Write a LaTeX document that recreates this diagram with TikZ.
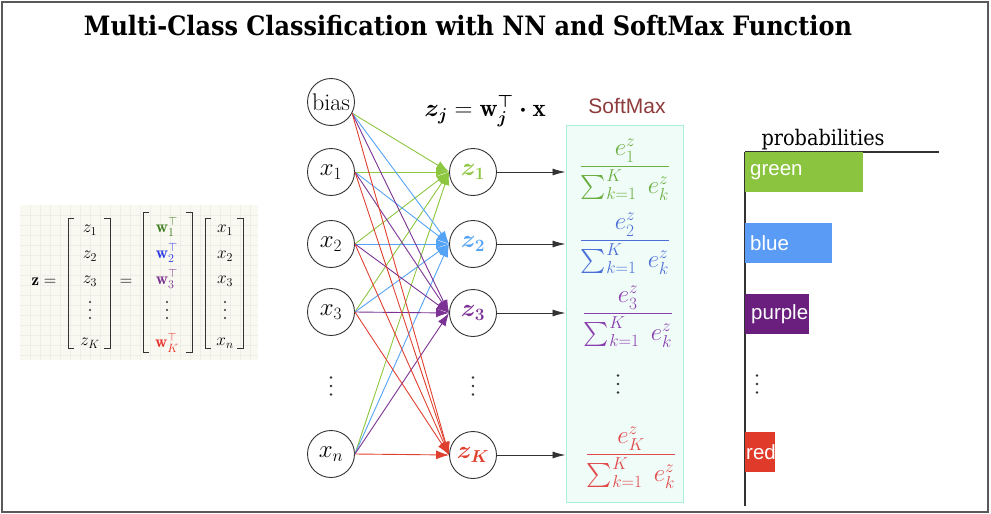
\documentclass[tikz,border=0pt]{standalone}
\usepackage{fontspec}
\usepackage{amsmath,amssymb,bm}
\usepackage{graphicx}
\usetikzlibrary{arrows.meta}
\newfontfamily\titlefont{DejaVu Serif Condensed}
\newfontfamily\labfont{Liberation Sans}
\definecolor{eG}{HTML}{8DC63F}
\definecolor{eB}{HTML}{55A3F5}
\definecolor{eP}{HTML}{7B3294}
\definecolor{eR}{HTML}{E0402F}
\definecolor{bG}{HTML}{8BC540}
\definecolor{bB}{HTML}{5A9CF5}
\definecolor{bP}{HTML}{6A1F7F}
\definecolor{bR}{HTML}{E03A2A}
\definecolor{fG}{HTML}{6AAE3E}
\definecolor{fB}{HTML}{4A6FD8}
\definecolor{fP}{HTML}{8A3FB0}
\definecolor{fR}{HTML}{E04A4A}
\definecolor{mG}{HTML}{3D7F1E}
\definecolor{mB}{HTML}{2C3BE6}
\definecolor{mP}{HTML}{7A2E8E}
\definecolor{mR}{HTML}{E8302A}
\definecolor{boxfill}{HTML}{F0FCF8}
\definecolor{boxline}{HTML}{A8F0D8}
\definecolor{smlab}{HTML}{8E3B3B}
\definecolor{panel}{HTML}{F9F8F1}
\definecolor{panelgrid}{HTML}{EFEEE6}
\definecolor{ink}{HTML}{333333}
\newcommand{\titletext}{\resizebox{768pt}{!}{\titlefont\bfseries Multi-Class Classification with NN and SoftMax Function}}
\newcommand{\probtext}{\resizebox{123pt}{!}{\titlefont probabilities}}
\newcommand{\zformula}{$\bm{z_j} = \mathbf{w}_{\bm{j}}^{\bm{\top}} \bm{\cdot} \mathbf{x}$}
\newcommand{\smfrac}[1]{$\dfrac{e^z_{#1}}{\sum_{k=1}^K\ e^z_k}$}
\begin{document}
\begin{tikzpicture}[x=1pt,y=-1pt,
  neuron/.style={circle,draw=ink,line width=0.9pt,minimum size=47pt,inner sep=0pt,font=\fontsize{24}{27}\selectfont},
  edge/.style={line width=0.9pt,-{Latex[length=13pt,width=9pt]}},
  outarrow/.style={line width=0.9pt,draw=ink,-{Latex[length=13pt,width=7pt]}},
  frac/.style={font=\fontsize{24}{28}\selectfont,inner sep=0pt},
  bar/.style={anchor=west,inner sep=0pt,minimum height=40pt},
  barlab/.style={anchor=west,text=white,font=\labfont\fontsize{20.5}{23}\selectfont,inner sep=0pt},
  mat/.style={font=\fontsize{17}{19}\selectfont,inner sep=0pt},
  brk/.style={line width=0.9pt,draw=ink}
]
\useasboundingbox (0,0) rectangle (991,514);
\draw[line width=1.5pt,draw=black!65] (2,2) rectangle (988,512);

% title
\node[anchor=base,inner sep=0pt] (title) at (468,35) {\titletext};

% left matrix panel
\fill[panel] (20,205) rectangle (258,360);
\foreach \gx in {30,40,...,250} \draw[panelgrid,line width=0.3pt] (\gx,205) -- (\gx,360);
\foreach \gy in {215,225,...,355} \draw[panelgrid,line width=0.3pt] (20,\gy) -- (258,\gy);
\node[mat] (zeq) at (44,282) {$\mathbf{z} =$};
\node[mat] (eq2) at (126,282) {$=$};
\node[mat] (m11) at (90,230) {$z_1$};
\node[mat] (m12) at (90,256) {$z_2$};
\node[mat] (m13) at (90,281) {$z_3$};
\node[mat] (m15) at (90,343) {$z_K$};
\node[mat] (m21) at (167,227) {$\color{mG}\mathbf{w}_1^\top$};
\node[mat] (m22) at (167,253) {$\color{mB}\mathbf{w}_2^\top$};
\node[mat] (m23) at (167,279) {$\color{mP}\mathbf{w}_3^\top$};
\node[mat] (m25) at (167,343) {$\color{mR}\mathbf{w}_K^\top$};
\node[mat] (m31) at (225,230) {$x_1$};
\node[mat] (m32) at (225,256) {$x_2$};
\node[mat] (m33) at (225,281) {$x_3$};
\node[mat] (m35) at (225,343) {$x_n$};
\coordinate (m14) at (90,310);
\coordinate (m24) at (167,310);
\coordinate (m34) at (225,310);
\foreach \dc in {m14,m24,m34}
  \foreach \dy in {-8,0,8} \fill[ink] (\dc) ++(0,\dy) circle (1.1pt);
\draw[brk] (74,218) -- (68,218) -- (68,348) -- (74,348);
\draw[brk] (104,218) -- (110,218) -- (110,348) -- (104,348);
\draw[brk] (149,212) -- (143,212) -- (143,352) -- (149,352);
\draw[brk] (186,212) -- (192,212) -- (192,352) -- (186,352);
\draw[brk] (211,218) -- (205,218) -- (205,348) -- (211,348);
\draw[brk] (237,218) -- (243,218) -- (243,348) -- (237,348);

% input neurons
\node[neuron,font=\fontsize{24}{26}\selectfont] (bias) at (331,102) {bias};
\node[neuron] (x1) at (331,172) {$x_1$};
\node[neuron] (x2) at (331,244) {$x_2$};
\node[neuron] (x3) at (331,312) {$x_3$};
\coordinate (xd) at (331,386);
\node[neuron] (xn) at (331,454) {$x_n$};

% output neurons
\node[neuron] (z1) at (473,172) {$\color{eG}\bm{z_1}$};
\node[neuron] (z2) at (473,244) {$\color{eB}\bm{z_2}$};
\node[neuron] (z3) at (473,313) {$\color{eP}\bm{z_3}$};
\coordinate (zd) at (473,386);
\node[neuron] (zK) at (473,455) {$\color{eR}\bm{z_K}$};

\node[font=\fontsize{25}{28}\selectfont] (formula) at (485,111) {\zformula};

% connections
\foreach \tg/\cl in {z1/eG,z2/eB,z3/eP,zK/eR}{
  \foreach \sr in {bias.-28,x1.east,x2.east,x3.east,xn.east}{
    \draw[edge,\cl] (\sr) -- (\tg.west);
  }
}

% softmax box
\node[draw=boxline,fill=boxfill,line width=1pt,minimum width=117pt,minimum height=377pt,inner sep=0pt] (box) at (624.5,313.5) {};
\node[font=\labfont\fontsize{21}{24}\selectfont,text=smlab] (smlabel) at (627,106) {SoftMax};
\foreach \zz in {z1,z2,z3,zK} \draw[outarrow] (\zz) -- (\zz -| box.west);

\node[frac,text=fG] (f1) at (625,170) {\smfrac{1}};
\node[frac,text=fB] (f2) at (625,244) {\smfrac{2}};
\node[frac,text=fP] (f3) at (628,317) {\smfrac{3}};
\coordinate (fd) at (618,384);
\node[frac,text=fR] (f4) at (631,458) {\smfrac{K}};

% probabilities chart
\node[anchor=base,inner sep=0pt] (plabel) at (823,145) {\probtext};
\draw[line width=1.2pt,draw=ink] (745,152) -- (745,506);
\draw[line width=1.2pt,draw=ink] (745,152) -- (939,152);
\node[bar,fill=bG,minimum width=118pt] (pg) at (745,172) {};
\node[bar,fill=bB,minimum width=87pt] (pb) at (745,243) {};
\node[bar,fill=bP,minimum width=64pt] (pp) at (745,314) {};
\node[bar,fill=bR,minimum width=30pt] (pr) at (745,452) {};
\node[barlab] (lg) at ([xshift=5pt]pg.west) {green};
\node[barlab] (lb) at ([xshift=5pt]pb.west) {blue};
\node[barlab] (lp) at ([xshift=6pt]pp.west) {purple};
\node[barlab] (lr) at ([xshift=1pt]pr.west) {red};
\coordinate (pd) at (757,384);

% vertical ellipses
\foreach \dc in {xd,zd,fd,pd}
  \foreach \dy in {-8.5,0,8.5} \fill[ink] (\dc) ++(0,\dy) circle (1.4pt);
\end{tikzpicture}
\end{document}
